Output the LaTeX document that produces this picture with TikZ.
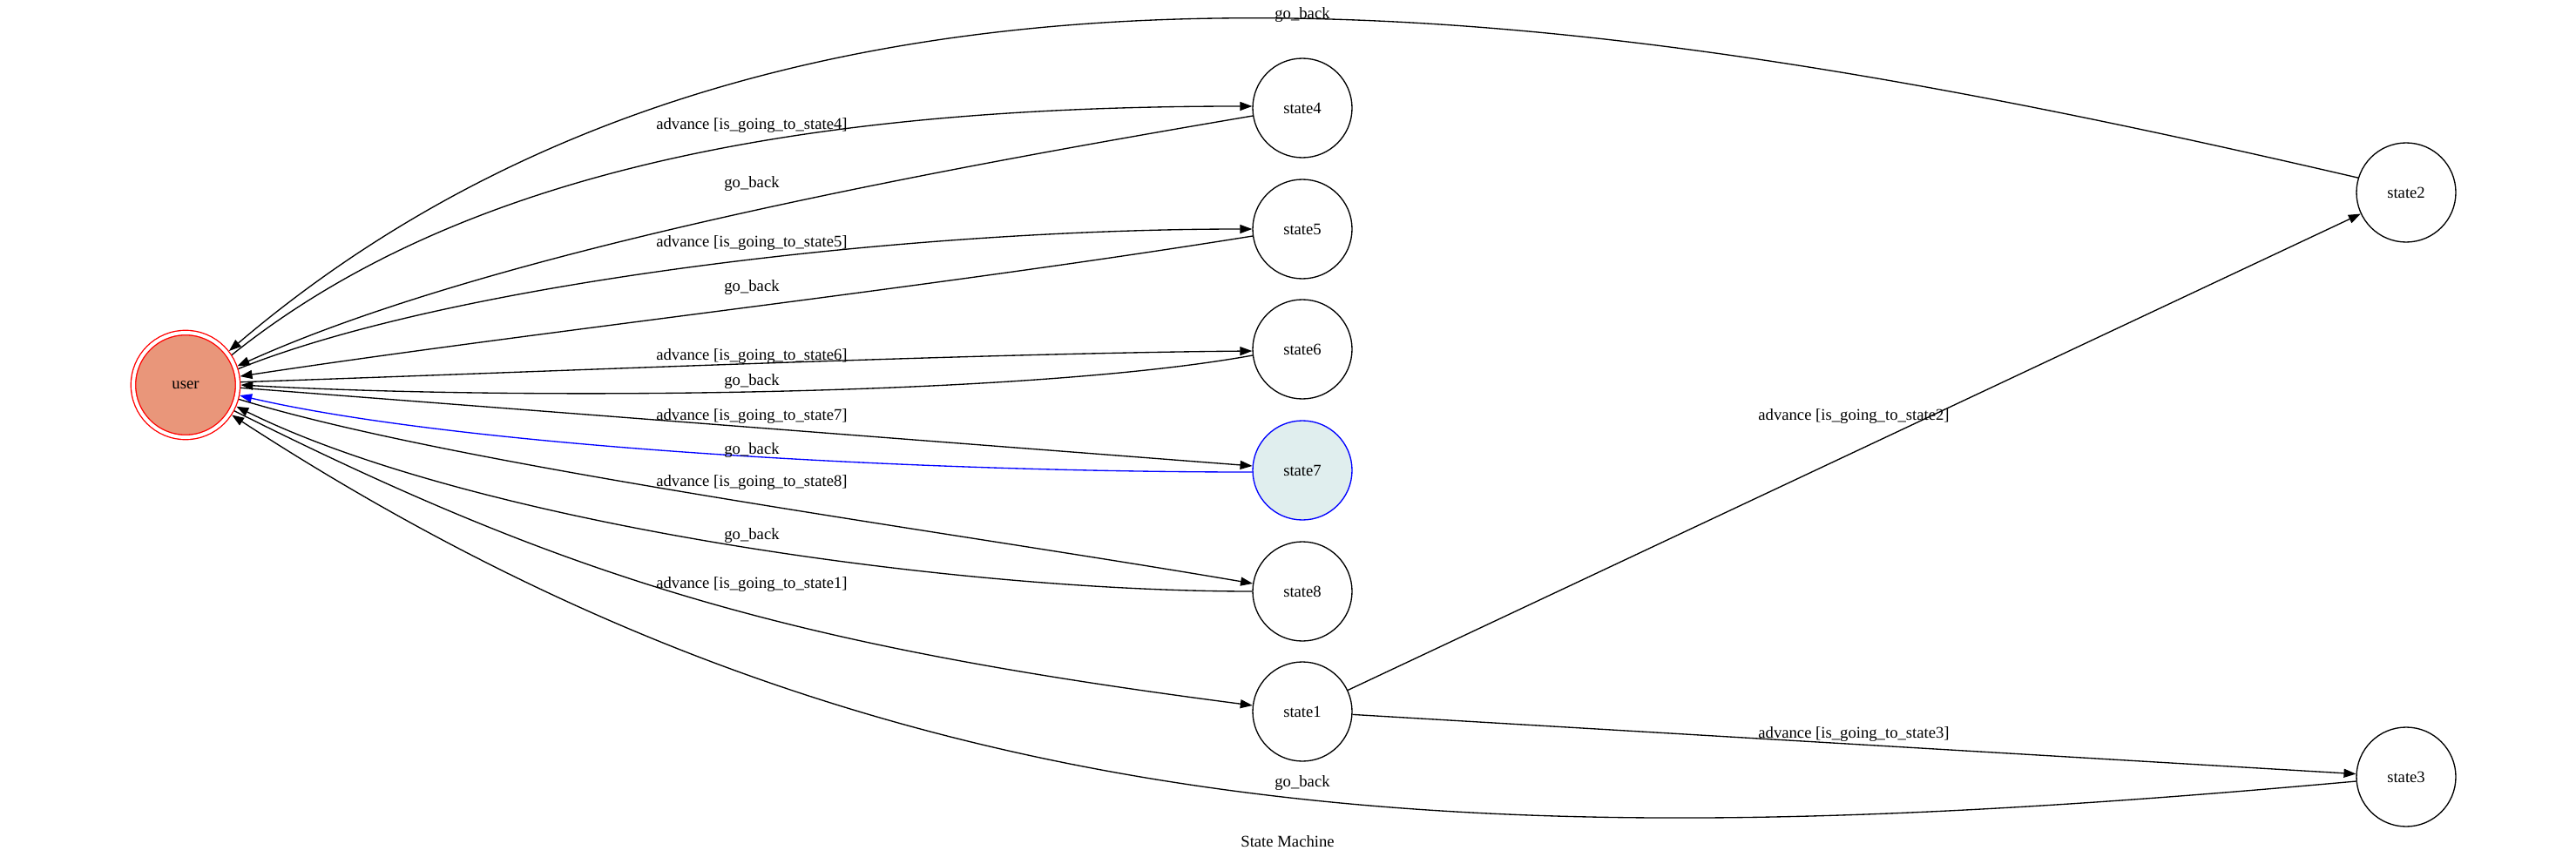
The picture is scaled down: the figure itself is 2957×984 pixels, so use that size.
\documentclass[tikz,border=0pt]{standalone}
\usepackage{fontspec}
\setmainfont{Liberation Serif}
\usetikzlibrary{arrows.meta}
\definecolor{salmonfill}{HTML}{E9967A}
\definecolor{azurefill}{HTML}{E0EEEE}
\begin{document}
\begin{tikzpicture}[x=0.75pt,y=-0.75pt,
  font=\fontsize{14pt}{16pt}\selectfont,
  statenode/.style={circle,draw=black,line width=1pt,minimum size=85.5pt,inner sep=0pt},
  usernode/.style={circle,draw=red,double=white,double distance=3pt,line width=1pt,fill=salmonfill,minimum size=90pt,inner sep=0pt,outer sep=2.5pt},
  edge/.style={line width=1pt,-{Triangle[length=10.5pt,width=7.5pt]}},
  lbl/.style={inner sep=0pt}]
\path[use as bounding box] (0,0) rectangle (2957,984);
% nodes
\node[usernode] (user) at (213,442) {user};
\node[statenode] (state4) at (1495,124) {state4};
\node[statenode] (state5) at (1495,263) {state5};
\node[statenode] (state6) at (1495,401) {state6};
\node[statenode,draw=blue,fill=azurefill] (state7) at (1495,540) {state7};
\node[statenode] (state8) at (1495,679) {state8};
\node[statenode] (state1) at (1495,817) {state1};
\node[statenode] (state2) at (2762,221) {state2};
\node[statenode] (state3) at (2762,892) {state3};
% edges
\draw[edge] (state2.163) .. controls (1836,2) and (907.7,-145.6) .. (user.38.3);
\draw[edge] (user.33.3) .. controls (531,195) and (927,122) .. (state4.178);
\draw[edge] (state4.189) .. controls (1079,194) and (565,288) .. (user.20.5);
\draw[edge] (user.17.2) .. controls (521,324) and (1042,263) .. (state5.180);
\draw[edge] (state5.188) .. controls (1058,332) and (604,382) .. (user.9.6);
\draw[edge] (user.3.4) .. controls (600,428) and (1100,406) .. (state6.182);
\draw[edge] (state6.187) .. controls (1180,455) and (600,460) .. (user.0.3);
\draw[edge] (user.-3.6) -- (state7.175);
\draw[edge,blue] (state7.182) .. controls (1038,542) and (524,512) .. (user.-11.4);
\draw[edge] (user.-15.7) .. controls (523,535) and (1088,610) .. (state8.171);
\draw[edge] (state8.180) .. controls (1088,679) and (540,600) .. (user.-23.2);
\draw[edge] (user.-28.2) .. controls (658,666.5) and (907,741) .. (state1.173);
\draw[edge] (state3.185) .. controls (1718,986) and (1025,970) .. (user.-33.2);
\draw[edge] (state1) -- (state2);
\draw[edge] (state1) -- (state3);
% labels
\node[lbl] (l1) at (1495,17) {go\_back};
\node[lbl] (l2) at (863,144) {advance [is\_going\_to\_state4]};
\node[lbl] (l3) at (863,211) {go\_back};
\node[lbl] (l4) at (863,279) {advance [is\_going\_to\_state5]};
\node[lbl] (l5) at (863,330) {go\_back};
\node[lbl] (l6) at (863,409) {advance [is\_going\_to\_state6]};
\node[lbl] (l7) at (863,438) {go\_back};
\node[lbl] (l8) at (863,478) {advance [is\_going\_to\_state7]};
\node[lbl] (l9) at (863,517) {go\_back};
\node[lbl] (l10) at (863,554) {advance [is\_going\_to\_state8]};
\node[lbl] (l11) at (863,615) {go\_back};
\node[lbl] (l12) at (863,671) {advance [is\_going\_to\_state1]};
\node[lbl] (l13) at (2128,478) {advance [is\_going\_to\_state2]};
\node[lbl] (l14) at (2128,843) {advance [is\_going\_to\_state3]};
\node[lbl] (l15) at (1495,899) {go\_back};
\node[lbl] (title) at (1478,966) {State Machine};
\end{tikzpicture}
\end{document}
